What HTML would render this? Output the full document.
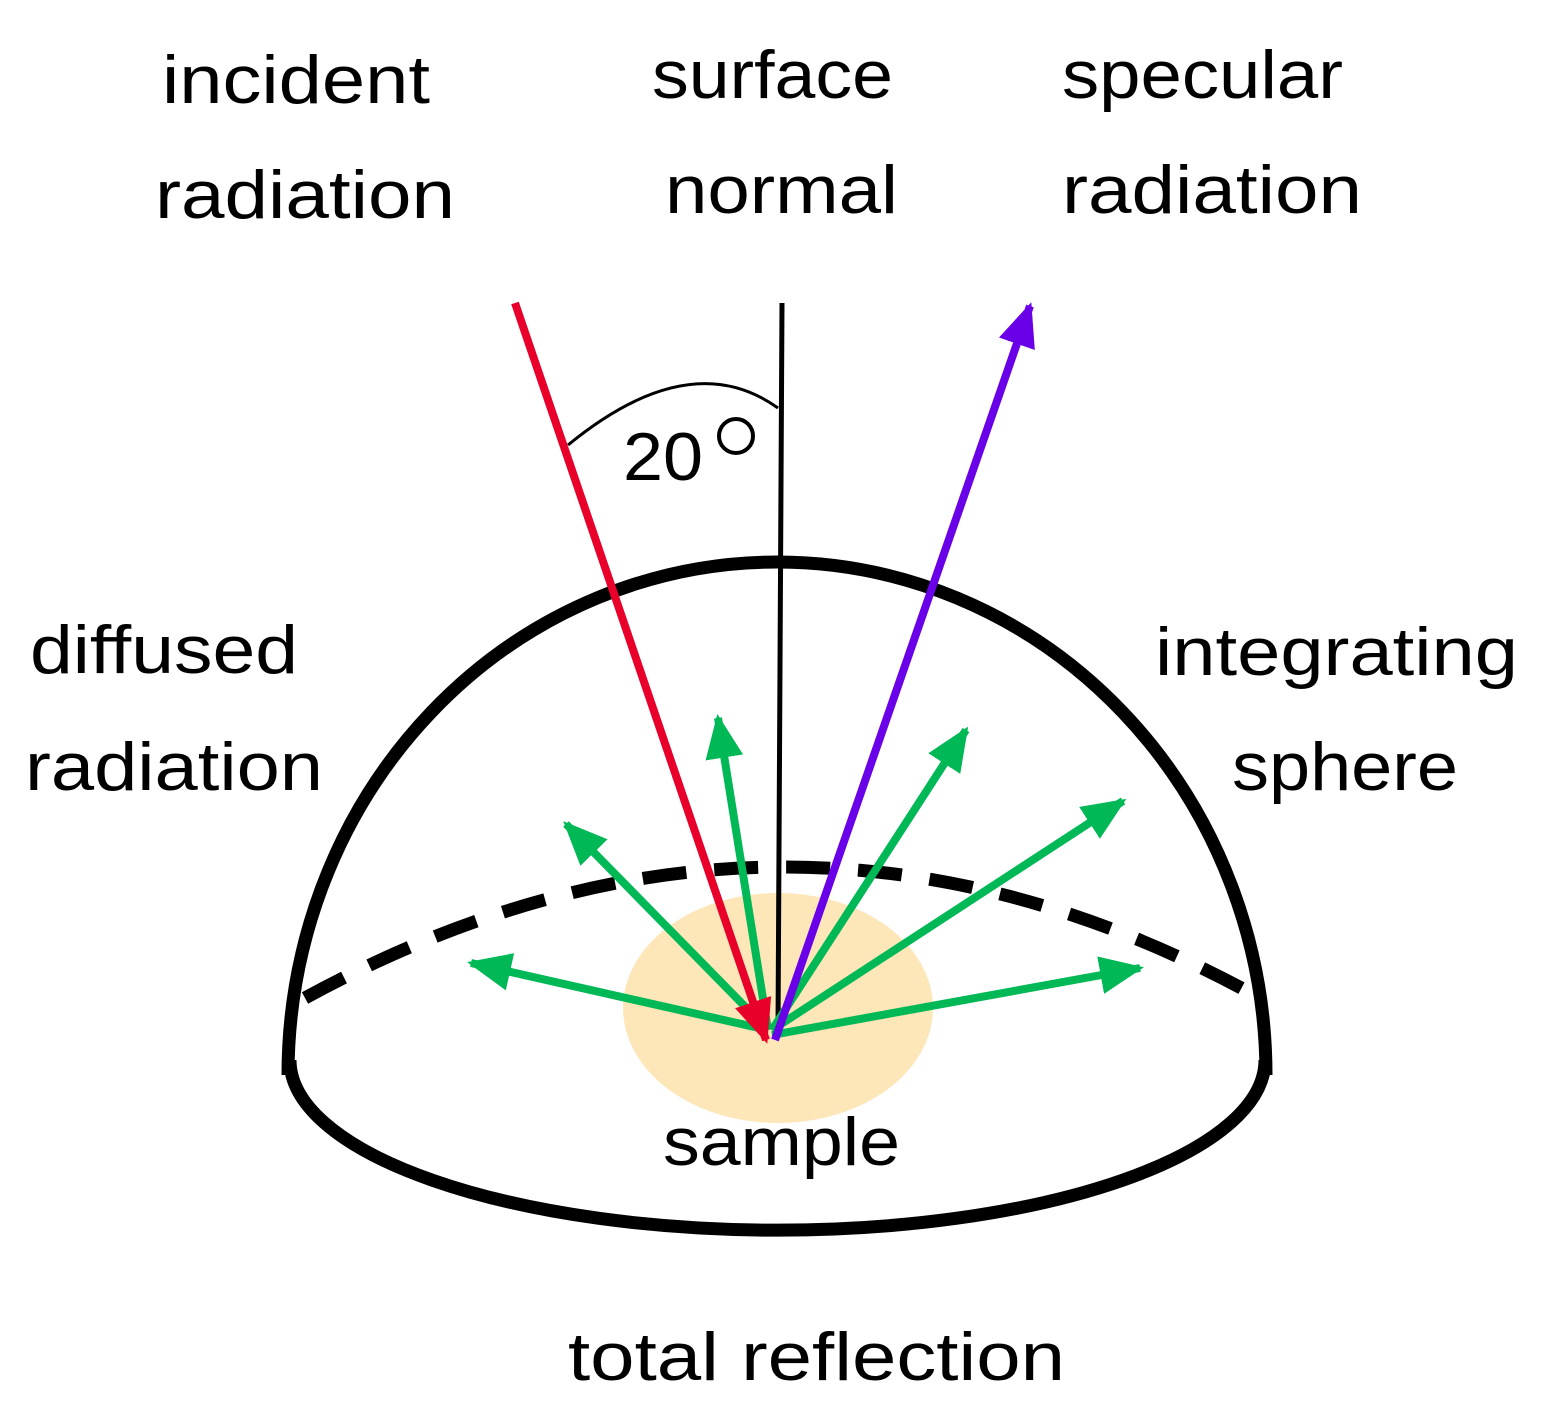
<!DOCTYPE html>
<html><head><meta charset="utf-8"><style>
html,body{margin:0;padding:0;background:#fff;}
svg{display:block;}
text{font-family:"Liberation Sans","DejaVu Sans",sans-serif;font-size:68px;fill:#000;}
</style></head><body>
<svg width="1541" height="1407" viewBox="0 0 1541 1407" xmlns="http://www.w3.org/2000/svg">
<defs>
<marker id="ag" markerWidth="44" markerHeight="38" refX="40" refY="19" orient="auto" markerUnits="userSpaceOnUse"><path d="M0,0 L44,19 L0,38 Z" fill="#00b856"/></marker>
<marker id="ar" markerWidth="44" markerHeight="38" refX="40" refY="19" orient="auto" markerUnits="userSpaceOnUse"><path d="M0,0 L44,19 L0,38 Z" fill="#e8002a"/></marker>
<marker id="ap" markerWidth="44" markerHeight="38" refX="40" refY="19" orient="auto" markerUnits="userSpaceOnUse"><path d="M0,0 L44,19 L0,38 Z" fill="#6a00e8"/></marker>
</defs>
<ellipse cx="778" cy="1008" rx="155" ry="115" fill="#fde7b8"/>
<path d="M288,1075 A489,513 0 0 1 1266,1075" fill="none" stroke="#000" stroke-width="13"/>
<path d="M290,1060 A487,170 0 0 0 1265,1060" fill="none" stroke="#000" stroke-width="13"/>
<path d="M305,998 Q778,740 1245,990" fill="none" stroke="#000" stroke-width="13" stroke-dasharray="44,28"/>
<line x1="782" y1="303" x2="778" y2="1030" stroke="#000" stroke-width="5"/>
<path d="M568,445 Q690,345 778,408" fill="none" stroke="#000" stroke-width="3"/>
<g stroke="#00b856" stroke-width="8" fill="none" marker-end="url(#ag)">
<line x1="768" y1="1030" x2="718" y2="718"/>
<line x1="768" y1="1030" x2="566" y2="824"/>
<line x1="768" y1="1030" x2="471" y2="963"/>
<line x1="772" y1="1030" x2="966" y2="730"/>
<line x1="772" y1="1030" x2="1123" y2="801"/>
<line x1="772" y1="1035" x2="1140" y2="968"/>
</g>
<line x1="515" y1="303" x2="766" y2="1040" stroke="#e8002a" stroke-width="8" marker-end="url(#ar)"/>
<line x1="775" y1="1040" x2="1030" y2="306" stroke="#6a00e8" stroke-width="8" marker-end="url(#ap)"/>
<text x="162" y="103" textLength="268" lengthAdjust="spacingAndGlyphs">incident</text>
<text x="155" y="218" textLength="300" lengthAdjust="spacingAndGlyphs">radiation</text>
<text x="652" y="98" textLength="241" lengthAdjust="spacingAndGlyphs">surface</text>
<text x="665" y="213" textLength="233" lengthAdjust="spacingAndGlyphs">normal</text>
<text x="1062" y="98" textLength="281" lengthAdjust="spacingAndGlyphs">specular</text>
<text x="1062" y="213" textLength="300" lengthAdjust="spacingAndGlyphs">radiation</text>
<text x="30" y="673" textLength="268" lengthAdjust="spacingAndGlyphs">diffused</text>
<text x="25" y="790" textLength="298" lengthAdjust="spacingAndGlyphs">radiation</text>
<text x="1155" y="675" textLength="363" lengthAdjust="spacingAndGlyphs">integrating</text>
<text x="1232" y="790" textLength="226" lengthAdjust="spacingAndGlyphs">sphere</text>
<text x="663" y="1165" textLength="237" lengthAdjust="spacingAndGlyphs">sample</text>
<text x="568" y="1380" textLength="497" lengthAdjust="spacingAndGlyphs">total reflection</text>
<text x="623" y="480" textLength="80" lengthAdjust="spacingAndGlyphs">20</text>
<circle cx="736" cy="436" r="17" fill="none" stroke="#000" stroke-width="4"/>
</svg>
</body></html>
